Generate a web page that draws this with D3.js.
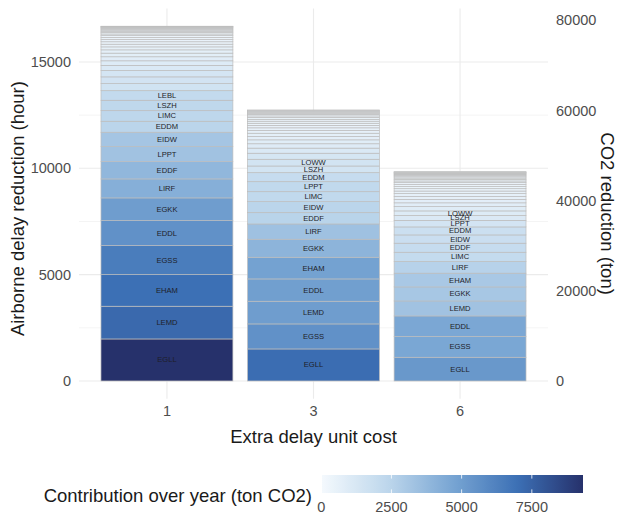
<!DOCTYPE html>
<html>
<head>
<meta charset="utf-8">
<script src="https://cdn.jsdelivr.net/npm/d3@7"></script>
<style>
  html, body { margin: 0; padding: 0; background: #fff; }
  svg { display: block; font-family: "Liberation Sans", Arial, sans-serif; }
</style>
</head>
<body>
<svg id="chart" width="619" height="514"></svg>
<script>
// Extra delay unit cost scenarios
const costs = ["1", "3", "6"];

// Airports with the largest airborne delay reduction (hours), bottom to top of each bar
const airports1 = ["EGLL","LEMD","EHAM","EGSS","EDDL","EGKK","LIRF","EDDF","LPPT","EIDW","EDDM","LIMC","LSZH","LEBL"];
const hours1 = [1975,1538,1486,1364,1176,1067,893,813,705,677,517,498,489,451];
// Remaining airports, not labelled
const otherHours1 = [330,320,300,240,215,190,170,155,140,125,115,105,95,88,78,68,62,56,48,42,34,28,20,6];

const airports3 = ["EGLL","EGSS","LEMD","EDDL","EHAM","EGKK","LIRF","EDDF","EIDW","LIMC","LPPT","EDDM","LSZH","LOWW"];
const hours3 = [1505,1176,1067,1049,1020,846,719,531,517,470,470,423,315,315];
const otherHours3 = [285,240,205,185,160,150,130,125,115,100,95,90,85,75,66,60,50,45,40,18];

const airports6 = ["EGLL","EGSS","EDDL","LEMD","EGKK","EHAM","LIRF","LIMC","EDDF","EIDW","EDDM","LPPT","LSZH","LOWW"];
const hours6 = [1114,975,968,705,660,645,545,440,425,390,376,306,235,212];
const otherHours6 = [200,180,160,145,130,120,110,100,95,88,80,72,65,58,50,45,40,35,30,25,17];

// Axis and legend breaks
const hourTicks = [0, 5000, 10000, 15000];
const hourMinorTicks = [2500, 7500, 12500];
const co2Ticks = [0, 20000, 40000, 60000, 80000];
const legendTicks = [0, 2500, 5000, 7500];

// Tons of CO2 saved per hour of airborne delay
const co2PerHour = 4.72;

// Fill ramp for the contribution colour scale
const fillRamp = ["#f4f9fd", "#bed7ec", "#78a5d3", "#3c70b5", "#26316b"];

// ---------------------------------------------------------------
const svg = d3.select("#chart");
const W = 619, H = 514;
const panel = { left: 79, right: 548, top: 8.5, bottom: 398.7 };
const axisGrey = "#4d4d4d";
const gridGrey = "#ebebeb";

// Build one stacked column per scenario
const groups = [
  { cost: costs[0], names: airports1, hours: hours1, other: otherHours1 },
  { cost: costs[1], names: airports3, hours: hours3, other: otherHours3 },
  { cost: costs[2], names: airports6, hours: hours6, other: otherHours6 }
];
const segments = [];
const totals = [];
groups.forEach(g => {
  const vals = g.hours.concat(g.other);
  const labels = g.names.concat(g.other.map(() => ""));
  const ends = Array.from(d3.cumsum(vals));
  vals.forEach((v, i) => {
    segments.push({ cost: g.cost, label: labels[i], hours: v, y0: ends[i] - v, y1: ends[i], co2: v * co2PerHour });
  });
  totals.push(ends[ends.length - 1]);
});
const maxTotal = d3.max(totals);

const x = d3.scaleBand().domain(costs).range([panel.left, panel.right])
  .paddingInner(0.1).paddingOuter(0.15);
const y = d3.scaleLinear().domain([-0.05 * maxTotal, 1.05 * maxTotal]).range([panel.bottom, panel.top]);
const yCo2 = d3.scaleLinear().domain(y.domain().map(d => d * co2PerHour)).range(y.range());

const co2Extent = d3.extent(segments, d => d.co2);
const fillInterp = d3.piecewise(d3.interpolateRgb, fillRamp);
const color = d3.scaleSequential(fillInterp).domain(co2Extent);

// Grid
const grid = svg.append("g");
grid.selectAll(".minor").data(hourMinorTicks).join("line")
  .attr("x1", panel.left).attr("x2", panel.right)
  .attr("y1", d => y(d)).attr("y2", d => y(d))
  .attr("stroke", gridGrey).attr("stroke-width", 0.55);
grid.selectAll(".major").data(hourTicks).join("line")
  .attr("x1", panel.left).attr("x2", panel.right)
  .attr("y1", d => y(d)).attr("y2", d => y(d))
  .attr("stroke", gridGrey).attr("stroke-width", 1.1);
grid.selectAll(".vmajor").data(costs).join("line")
  .attr("x1", d => x(d) + x.bandwidth() / 2).attr("x2", d => x(d) + x.bandwidth() / 2)
  .attr("y1", panel.top).attr("y2", panel.bottom)
  .attr("stroke", gridGrey).attr("stroke-width", 1.1);

// Stacked bars
svg.append("g").selectAll("rect").data(segments).join("rect")
  .attr("x", d => x(d.cost))
  .attr("width", x.bandwidth())
  .attr("y", d => y(d.y1))
  .attr("height", d => y(d.y0) - y(d.y1))
  .attr("fill", d => color(d.co2))
  .attr("stroke", "#bcbcbc")
  .attr("stroke-width", 0.7);

// Airport labels
svg.append("g").selectAll("text").data(segments.filter(d => d.label)).join("text")
  .attr("x", d => x(d.cost) + x.bandwidth() / 2)
  .attr("y", d => y((d.y0 + d.y1) / 2))
  .attr("text-anchor", "middle")
  .attr("dominant-baseline", "central")
  .attr("font-size", 7.6)
  .attr("fill", "#1e1e28")
  .text(d => d.label);

// Left axis labels
svg.append("g").selectAll("text").data(hourTicks).join("text")
  .attr("x", 71).attr("y", d => y(d))
  .attr("text-anchor", "end").attr("dominant-baseline", "central")
  .attr("font-size", 14.5).attr("fill", axisGrey)
  .text(d => d);

// Right axis labels
svg.append("g").selectAll("text").data(co2Ticks).join("text")
  .attr("x", 556).attr("y", d => yCo2(d))
  .attr("text-anchor", "start").attr("dominant-baseline", "central")
  .attr("font-size", 14.5).attr("fill", axisGrey)
  .text(d => d);

// Bottom axis labels
svg.append("g").selectAll("text").data(costs).join("text")
  .attr("x", d => x(d) + x.bandwidth() / 2).attr("y", 411)
  .attr("text-anchor", "middle").attr("dominant-baseline", "central")
  .attr("font-size", 14.5).attr("fill", axisGrey)
  .text(d => d);

// Axis titles
svg.append("text")
  .attr("transform", `translate(17,${(panel.top + panel.bottom) / 2 + 5}) rotate(-90)`)
  .attr("text-anchor", "middle").attr("dominant-baseline", "central")
  .attr("font-size", 18.5).attr("fill", "#1a1a1a")
  .text("Airborne delay reduction (hour)");
svg.append("text")
  .attr("transform", `translate(607,${(panel.top + panel.bottom) / 2 + 10}) rotate(90)`)
  .attr("text-anchor", "middle").attr("dominant-baseline", "central")
  .attr("font-size", 18.5).attr("fill", "#1a1a1a")
  .text("CO2 reduction (ton)");
svg.append("text")
  .attr("x", (panel.left + panel.right) / 2).attr("y", 436)
  .attr("text-anchor", "middle").attr("dominant-baseline", "central")
  .attr("font-size", 18.5).attr("fill", "#1a1a1a")
  .text("Extra delay unit cost");

// Colour bar legend
const lg = { x0: 322, x1: 583, y0: 475, y1: 493 };
const lx = d3.scaleLinear().domain(co2Extent).range([lg.x0, lg.x1]);
const defs = svg.append("defs");
const grad = defs.append("linearGradient").attr("id", "co2grad")
  .attr("x1", "0%").attr("x2", "100%").attr("y1", "0%").attr("y2", "0%");
d3.range(0, 1.0001, 0.02).forEach(t => {
  grad.append("stop").attr("offset", `${t * 100}%`).attr("stop-color", fillInterp(t));
});
svg.append("rect")
  .attr("x", lg.x0).attr("y", lg.y0)
  .attr("width", lg.x1 - lg.x0).attr("height", lg.y1 - lg.y0)
  .attr("fill", "url(#co2grad)");
const tickLen = (lg.y1 - lg.y0) / 5;
const lt = svg.append("g");
lt.selectAll(".tt").data(legendTicks).join("line")
  .attr("x1", d => lx(d)).attr("x2", d => lx(d))
  .attr("y1", lg.y0).attr("y2", lg.y0 + tickLen)
  .attr("stroke", "#fff").attr("stroke-width", 0.8);
lt.selectAll(".tb").data(legendTicks).join("line")
  .attr("x1", d => lx(d)).attr("x2", d => lx(d))
  .attr("y1", lg.y1 - tickLen).attr("y2", lg.y1)
  .attr("stroke", "#fff").attr("stroke-width", 0.8);
svg.append("g").selectAll("text").data(legendTicks).join("text")
  .attr("x", d => lx(d)).attr("y", 507)
  .attr("text-anchor", "middle").attr("dominant-baseline", "central")
  .attr("font-size", 14.5).attr("fill", axisGrey)
  .text(d => d);
svg.append("text")
  .attr("x", 312).attr("y", 495)
  .attr("text-anchor", "end").attr("dominant-baseline", "central")
  .attr("font-size", 18.5).attr("fill", "#1a1a1a")
  .text("Contribution over year (ton CO2)");
</script>
</body>
</html>
